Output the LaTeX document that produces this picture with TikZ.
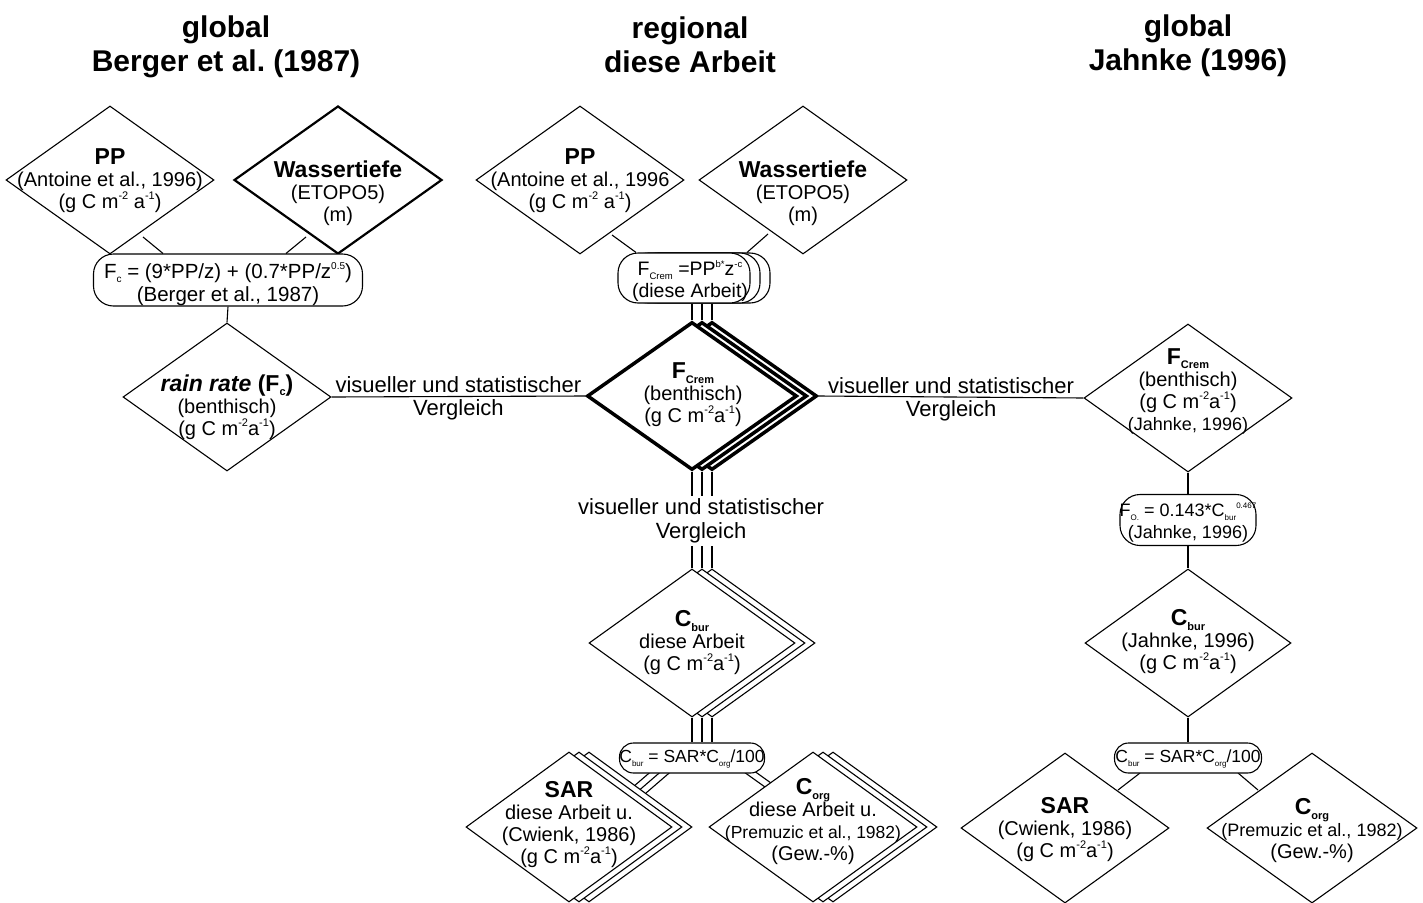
\documentclass[tikz,border=0pt]{standalone}
\usepackage{fontspec}
\setmainfont{Liberation Sans}
\usetikzlibrary{shapes.geometric,calc,backgrounds}
\newcommand\spx[2][11pt]{\raisebox{0.85ex}{\fontsize{#1}{#1}\selectfont #2}}
\newcommand\sbx[2][11pt]{\raisebox{-0.35ex}{\fontsize{#1}{#1}\selectfont #2}}
\newcommand\hd[1]{{\fontsize{23pt}{24pt}\selectfont\bfseries #1}}
\newcommand\smf[1]{{\fontsize{17.5pt}{20pt}\selectfont #1}}
\frenchspacing
\begin{document}
\frenchspacing
\begin{tikzpicture}[x=1pt,y=-1pt,
  dia/.style={shape=diamond, draw, fill=white, minimum width=208pt, minimum height=148pt, inner sep=0pt, line width=1.1pt},
  thickdia/.style={dia, line width=2.2pt},
  bolddia/.style={dia, line width=3.5pt, minimum width=210pt},
  fbox/.style={shape=rectangle, draw, fill=white, rounded corners=20pt, inner sep=0pt, line width=1.1pt},
  sbox/.style={fbox, rounded corners=14pt, minimum height=30pt},
  txt/.style={align=center, inner sep=0pt, font=\fontsize{20pt}{22pt}\selectfont},
  ftxt/.style={align=center, inner sep=0pt, font=\fontsize{17.5pt}{20pt}\selectfont},
  vtxt/.style={align=center, inner sep=0pt, font=\fontsize{22pt}{24pt}\selectfont},
  ttl/.style={align=center, inner sep=0pt, font=\fontsize{30pt}{34pt}\selectfont\bfseries},
  conn/.style={line width=1.1pt}]
\useasboundingbox (0,0) rectangle (1423,902);

% titles
\node[ttl] (t1) at (226,47) {global\\Berger et al. (1987)};
\node[ttl] (t2) at (690,45) {regional\\diese Arbeit};
\node[ttl] (t3) at (1188,46) {global\\Jahnke (1996)};

% ---------- left column ----------
\node[dia] (ppL) at (110,180) {};
\node[txt] (ppLt) at (110,181) {\hd{PP}\\(Antoine et al., 1996)\\(g C m\spx{-2} a\spx{-1})};
\node[thickdia] (wL) at (338,180) {};
\node[txt] (wLt) at (338,193) {\hd{Wassertiefe}\\(ETOPO5)\\(m)};
\node[fbox, minimum width=269pt, minimum height=52pt] (fcL) at (228,280) {};
\node[txt, font=\fontsize{20.5pt}{23pt}\selectfont] (fcLt) at (228,284) {F\sbx[10pt]{c} = (9*PP/z) + (0.7*PP/z\spx[10pt]{0.5})\\(Berger et al., 1987)};
\node[dia] (rr) at (227,397) {};
\node[txt] (rrt) at (227,407) {\hd{\textit{rain rate} (F\sbx{c})}\\(benthisch)\\(g C m\spx{-2}a\spx{-1})};

% ---------- middle column ----------
\node[dia] (ppM) at (580,180) {};
\node[txt] (ppMt) at (580,181) {\hd{PP}\\(Antoine et al., 1996\\(g C m\spx{-2} a\spx{-1})};
\node[dia] (wM) at (803,180) {};
\node[txt] (wMt) at (803,193) {\hd{Wassertiefe}\\(ETOPO5)\\(m)};

\node[fbox, minimum width=132pt, minimum height=50pt] (fbM3) at (704,278) {};
\node[fbox, minimum width=132pt, minimum height=50pt] (fbM2) at (694,278) {};
\node[fbox, minimum width=132pt, minimum height=50pt] (fbM) at (684,278) {};
\node[txt, font=\fontsize{19.5pt}{22pt}\selectfont] (fbMt) at (690,281) {F\sbx[9.5pt]{Crem} =PP\spx[9.5pt]{b*}z\spx[9.5pt]{-c}\\(diese Arbeit)};

\node[bolddia] (fcM3) at (712,396) {};
\node[bolddia] (fcM2) at (702,396) {};
\node[bolddia] (fcM) at (692,396) {};
\node[txt] (fcMt) at (693,395) {\hd{F\sbx{Crem}}\\(benthisch)\\(g C m\spx{-2}a\spx{-1})};

\node[vtxt, inner sep=3pt] (vgM) at (701,521) {visueller und statistischer\\Vergleich};

\node[dia, minimum width=206pt] (cbM3) at (712,643) {};
\node[dia, minimum width=206pt] (cbM2) at (702,643) {};
\node[dia, minimum width=206pt] (cbM) at (692,643) {};
\node[txt] (cbMt) at (692,643) {\hd{C\sbx{bur}}\\diese Arbeit\\(g C m\spx{-2}a\spx{-1})};

\node[sbox, minimum width=145pt] (cfM) at (692,758) {};
\node[ftxt] (cfMt) at (692,759) {C\sbx[8pt]{bur} = SAR*C\sbx[8pt]{org}/100};

\node[dia, minimum width=206pt, minimum height=150pt] (sarM3) at (589,827) {};
\node[dia, minimum width=206pt, minimum height=150pt] (sarM2) at (579,827) {};
\node[dia, minimum width=206pt, minimum height=150pt] (sarM) at (569,827) {};
\node[txt] (sarMt) at (569,825) {\hd{SAR}\\diese Arbeit u.\\(Cwienk, 1986)\\(g C m\spx{-2}a\spx{-1})};

\node[dia, minimum width=208pt, minimum height=150pt] (coM3) at (833,827) {};
\node[dia, minimum width=208pt, minimum height=150pt] (coM2) at (823,827) {};
\node[dia, minimum width=208pt, minimum height=150pt] (coM) at (813,827) {};
\node[txt] (coMt) at (813,822) {\hd{C\sbx{org}}\\diese Arbeit u.\\\smf{(Premuzic et al., 1982)}\\(Gew.-\%)};

% ---------- right column ----------
\node[dia] (fcR) at (1188,398) {};
\node[txt] (fcRt) at (1188,391) {\hd{F\sbx{Crem}}\\(benthisch)\\(g C m\spx{-2}a\spx{-1})\\{\fontsize{18pt}{20pt}\selectfont (Jahnke, 1996)}};
\node[fbox, minimum width=136pt, minimum height=51pt] (fR1) at (1188,520) {};
\node[txt, font=\fontsize{18pt}{22pt}\selectfont] (fR1t) at (1188,523) {F\sbx[8pt]{O.} = 0.143*C\sbx[8pt]{bur}\spx[8pt]{0.467}\\(Jahnke, 1996)};
\node[dia, minimum width=206pt] (cbR) at (1188,643) {};
\node[txt] (cbRt) at (1188,642) {\hd{C\sbx{bur}}\\(Jahnke, 1996)\\(g C m\spx{-2}a\spx{-1})};
\node[sbox, minimum width=147pt] (fR2) at (1188,758) {};
\node[ftxt] (fR2t) at (1188,759) {C\sbx[8pt]{bur} = SAR*C\sbx[8pt]{org}/100};
\node[dia, minimum width=208pt, minimum height=150pt] (sarR) at (1065,828) {};
\node[txt] (sarRt) at (1065,830) {\hd{SAR}\\(Cwienk, 1986)\\(g C m\spx{-2}a\spx{-1})};
\node[dia, minimum width=210pt, minimum height=150pt] (coR) at (1312,828) {};
\node[txt] (coRt) at (1312,831) {\hd{C\sbx{org}}\\{\fontsize{18pt}{20pt}\selectfont (Premuzic et al., 1982)}\\(Gew.-\%)};

% ---------- connectors (behind) ----------
\begin{scope}[on background layer]
\fill[white] (0,0) rectangle (1423,902);
% left
\draw[conn] ($(ppL.center)+(33,57)$) -- ($(fcL.north)+(-65,0)$);
\draw[conn] ($(wL.center)+(-32,57)$) -- ($(fcL.north)+(58,0)$);
\draw[conn] (fcL.south) -- (rr.north);
\draw[conn] (rr.east) -- (fcM.west)
  node[midway, above, vtxt, inner sep=3pt] (vgL) {visueller und statistischer}
  node[midway, below, vtxt, inner sep=3pt] (vgL2) {Vergleich};
% middle
\draw[conn] ($(ppM.center)+(32,55)$) -- ($(fbM.north)+(-48,0)$);
\draw[conn] ($(wM.center)+(-35,54)$) -- ($(fbM.north)+(63,0)$);
\foreach \n in {fcM,fcM2,fcM3}{
  \draw[conn] (\n.north) -- (\n.north |- fbM.south);
  \draw[conn] (\n.south) -- (\n.south |- vgM.north);
}
\foreach \n in {cbM,cbM2,cbM3}{
  \draw[conn] (\n.north) -- (\n.north |- vgM.south);
  \draw[conn] (\n.south) -- (\n.south |- cfM.north);
}
\foreach \k in {0,10,20}{
  \draw[conn] ($(cfM.center)+(-37+\k,10)$) -- ($(sarM.center)+(57+\k,-34)$);
}
\draw[conn] ($(cfM.center)+(45,9)$) -- ($(coM.center)+(-48,-40)$);
\draw[conn] ($(cfM.center)+(51,5)$) -- ($(coM.center)+(-42,-44)$);
\draw[conn] (fcM3.east) -- (fcR.west)
  node[midway, above, vtxt, inner sep=3pt] (vgR) {visueller und statistischer}
  node[midway, below, vtxt, inner sep=3pt] (vgR2) {Vergleich};
% right
\draw[conn] (fcR.south) -- (fR1.north);
\draw[conn] (fR1.south) -- (cbR.north);
\draw[conn] (cbR.south) -- (fR2.north);
\draw[conn] ($(fR2.center)+(-48,15)$) -- ($(sarR.center)+(53,-38)$);
\draw[conn] ($(fR2.center)+(50,15)$) -- ($(coR.center)+(-54,-38)$);
\end{scope}
\end{tikzpicture}
\end{document}
